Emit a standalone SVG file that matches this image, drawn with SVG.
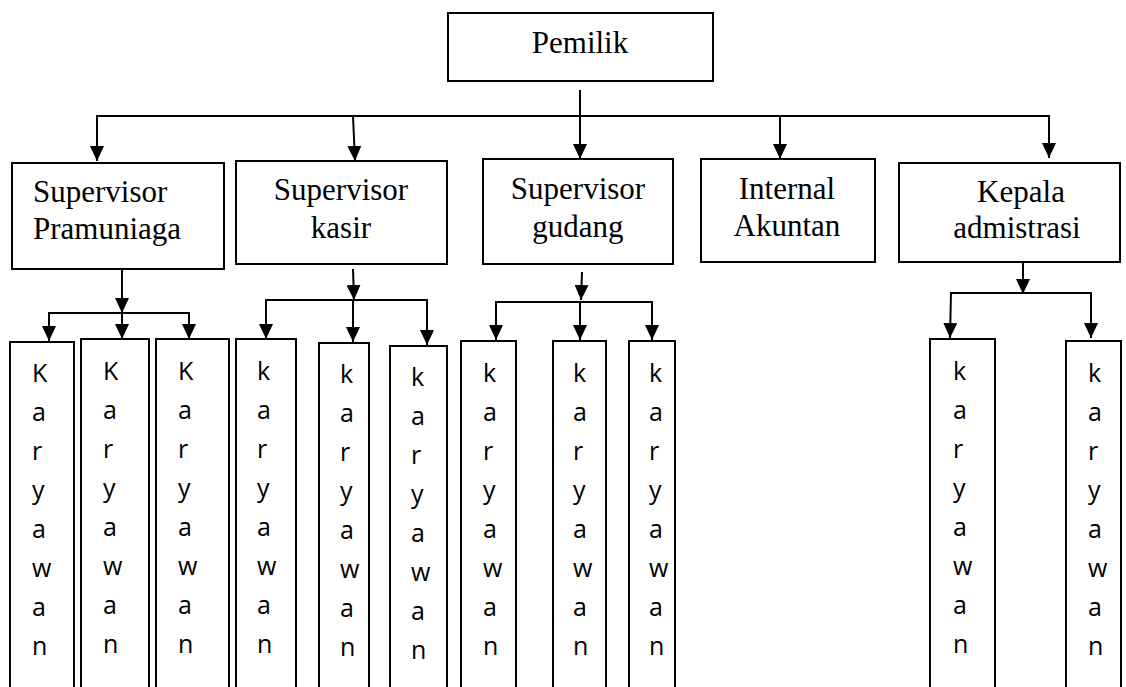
<svg xmlns="http://www.w3.org/2000/svg" width="1126" height="687" viewBox="0 0 1126 687">
<style>
.box{fill:#fff;stroke:#000;stroke-width:2}
.t{font-family:"Liberation Serif","Times New Roman",serif;font-size:31px;fill:#000}
.m{text-anchor:middle}
.k{font-family:"Open Sans","Liberation Sans",sans-serif;font-size:25px;fill:#000}
.c{fill:none;stroke:#000;stroke-width:2}
</style>
<defs>
<marker id="ah" markerUnits="userSpaceOnUse" markerWidth="15" markerHeight="14" refX="15" refY="7" orient="auto" viewBox="0 0 15 14">
<path d="M0,0 L15,7 L0,14 z" fill="#000"/>
</marker>
</defs>
<rect width="1126" height="687" fill="#fff"/>
<g id="connectors">
<line class="c" x1="580" y1="90" x2="580" y2="159" marker-end="url(#ah)"/>
<line class="c" x1="97" y1="116" x2="1049" y2="116"/>
<line class="c" x1="97" y1="115" x2="97" y2="161" marker-end="url(#ah)"/>
<line class="c" x1="353" y1="116" x2="355" y2="161" marker-end="url(#ah)"/>
<line class="c" x1="780" y1="116" x2="780" y2="159" marker-end="url(#ah)"/>
<line class="c" x1="1049" y1="115" x2="1049" y2="158" marker-end="url(#ah)"/>
<line class="c" x1="122" y1="269" x2="122" y2="313" marker-end="url(#ah)"/>
<line class="c" x1="49" y1="313" x2="189" y2="313"/>
<line class="c" x1="49" y1="312" x2="49" y2="341" marker-end="url(#ah)"/>
<line class="c" x1="122" y1="313" x2="122" y2="339" marker-end="url(#ah)"/>
<line class="c" x1="189" y1="312" x2="189" y2="339" marker-end="url(#ah)"/>
<line class="c" x1="353" y1="269" x2="354" y2="300" marker-end="url(#ah)"/>
<line class="c" x1="266" y1="300" x2="427" y2="300"/>
<line class="c" x1="266" y1="299" x2="266" y2="339" marker-end="url(#ah)"/>
<line class="c" x1="353" y1="300" x2="353" y2="342" marker-end="url(#ah)"/>
<line class="c" x1="427" y1="299" x2="427" y2="345" marker-end="url(#ah)"/>
<line class="c" x1="582" y1="272" x2="581" y2="300" marker-end="url(#ah)"/>
<line class="c" x1="496" y1="302" x2="652" y2="302"/>
<line class="c" x1="496" y1="301" x2="496" y2="340" marker-end="url(#ah)"/>
<line class="c" x1="580" y1="302" x2="580" y2="340" marker-end="url(#ah)"/>
<line class="c" x1="652" y1="301" x2="652" y2="340" marker-end="url(#ah)"/>
<line class="c" x1="1023" y1="262" x2="1023" y2="294" marker-end="url(#ah)"/>
<line class="c" x1="951" y1="293" x2="1091" y2="293"/>
<line class="c" x1="951" y1="292" x2="950" y2="338" marker-end="url(#ah)"/>
<line class="c" x1="1091" y1="292" x2="1091" y2="338" marker-end="url(#ah)"/>
</g>
<g id="pemilik"><rect class="box" x="448" y="13" width="265" height="68"/><text class="t m" x="580" y="53">Pemilik</text></g>
<g id="sup-pramuniaga"><rect class="box" x="12" y="163" width="212" height="106"/><text class="t" x="33" y="202">Supervisor</text><text class="t" x="33" y="239">Pramuniaga</text></g>
<g id="sup-kasir"><rect class="box" x="236" y="161" width="211" height="103"/><text class="t m" x="341" y="200">Supervisor</text><text class="t m" x="341" y="238">kasir</text></g>
<g id="sup-gudang"><rect class="box" x="483" y="159" width="190" height="105"/><text class="t m" x="578" y="199">Supervisor</text><text class="t m" x="578" y="237">gudang</text></g>
<g id="internal-akuntan"><rect class="box" x="701" y="159" width="174" height="103"/><text class="t m" x="787" y="199">Internal</text><text class="t m" x="787" y="236">Akuntan</text></g>
<g id="kepala-admistrasi"><rect class="box" x="899" y="163" width="221" height="99"/><text class="t m" x="1021" y="202">Kepala</text><text class="t m" x="1017" y="238">admistrasi</text></g>
<g id="k1"><rect class="box" x="10" y="342" width="64" height="360"/><text class="k" y="382"><tspan x="32">K</tspan><tspan x="32" dy="39">a</tspan><tspan x="32" dy="39">r</tspan><tspan x="32" dy="39">y</tspan><tspan x="32" dy="39">a</tspan><tspan x="32" dy="39">w</tspan><tspan x="32" dy="39">a</tspan><tspan x="32" dy="39">n</tspan></text></g>
<g id="k2"><rect class="box" x="81" y="339" width="68" height="360"/><text class="k" y="380"><tspan x="103">K</tspan><tspan x="103" dy="39">a</tspan><tspan x="103" dy="39">r</tspan><tspan x="103" dy="39">y</tspan><tspan x="103" dy="39">a</tspan><tspan x="103" dy="39">w</tspan><tspan x="103" dy="39">a</tspan><tspan x="103" dy="39">n</tspan></text></g>
<g id="k3"><rect class="box" x="156" y="339" width="73" height="360"/><text class="k" y="380"><tspan x="178">K</tspan><tspan x="178" dy="39">a</tspan><tspan x="178" dy="39">r</tspan><tspan x="178" dy="39">y</tspan><tspan x="178" dy="39">a</tspan><tspan x="178" dy="39">w</tspan><tspan x="178" dy="39">a</tspan><tspan x="178" dy="39">n</tspan></text></g>
<g id="k4"><rect class="box" x="236" y="339" width="60" height="360"/><text class="k" y="380"><tspan x="257">k</tspan><tspan x="257" dy="39">a</tspan><tspan x="257" dy="39">r</tspan><tspan x="257" dy="39">y</tspan><tspan x="257" dy="39">a</tspan><tspan x="257" dy="39">w</tspan><tspan x="257" dy="39">a</tspan><tspan x="257" dy="39">n</tspan></text></g>
<g id="k5"><rect class="box" x="319" y="343" width="50" height="360"/><text class="k" y="383"><tspan x="340">k</tspan><tspan x="340" dy="39">a</tspan><tspan x="340" dy="39">r</tspan><tspan x="340" dy="39">y</tspan><tspan x="340" dy="39">a</tspan><tspan x="340" dy="39">w</tspan><tspan x="340" dy="39">a</tspan><tspan x="340" dy="39">n</tspan></text></g>
<g id="k6"><rect class="box" x="390" y="346" width="57" height="360"/><text class="k" y="386"><tspan x="411">k</tspan><tspan x="411" dy="39">a</tspan><tspan x="411" dy="39">r</tspan><tspan x="411" dy="39">y</tspan><tspan x="411" dy="39">a</tspan><tspan x="411" dy="39">w</tspan><tspan x="411" dy="39">a</tspan><tspan x="411" dy="39">n</tspan></text></g>
<g id="k7"><rect class="box" x="461" y="341" width="55" height="360"/><text class="k" y="382"><tspan x="483">k</tspan><tspan x="483" dy="39">a</tspan><tspan x="483" dy="39">r</tspan><tspan x="483" dy="39">y</tspan><tspan x="483" dy="39">a</tspan><tspan x="483" dy="39">w</tspan><tspan x="483" dy="39">a</tspan><tspan x="483" dy="39">n</tspan></text></g>
<g id="k8"><rect class="box" x="553" y="341" width="53" height="360"/><text class="k" y="382"><tspan x="573">k</tspan><tspan x="573" dy="39">a</tspan><tspan x="573" dy="39">r</tspan><tspan x="573" dy="39">y</tspan><tspan x="573" dy="39">a</tspan><tspan x="573" dy="39">w</tspan><tspan x="573" dy="39">a</tspan><tspan x="573" dy="39">n</tspan></text></g>
<g id="k9"><rect class="box" x="629" y="341" width="46" height="360"/><text class="k" y="382"><tspan x="649">k</tspan><tspan x="649" dy="39">a</tspan><tspan x="649" dy="39">r</tspan><tspan x="649" dy="39">y</tspan><tspan x="649" dy="39">a</tspan><tspan x="649" dy="39">w</tspan><tspan x="649" dy="39">a</tspan><tspan x="649" dy="39">n</tspan></text></g>
<g id="k10"><rect class="box" x="930" y="339" width="65" height="360"/><text class="k" y="380"><tspan x="953">k</tspan><tspan x="953" dy="39">a</tspan><tspan x="953" dy="39">r</tspan><tspan x="953" dy="39">y</tspan><tspan x="953" dy="39">a</tspan><tspan x="953" dy="39">w</tspan><tspan x="953" dy="39">a</tspan><tspan x="953" dy="39">n</tspan></text></g>
<g id="k11"><rect class="box" x="1066" y="341" width="55" height="360"/><text class="k" y="382"><tspan x="1088">k</tspan><tspan x="1088" dy="39">a</tspan><tspan x="1088" dy="39">r</tspan><tspan x="1088" dy="39">y</tspan><tspan x="1088" dy="39">a</tspan><tspan x="1088" dy="39">w</tspan><tspan x="1088" dy="39">a</tspan><tspan x="1088" dy="39">n</tspan></text></g>
</svg>
